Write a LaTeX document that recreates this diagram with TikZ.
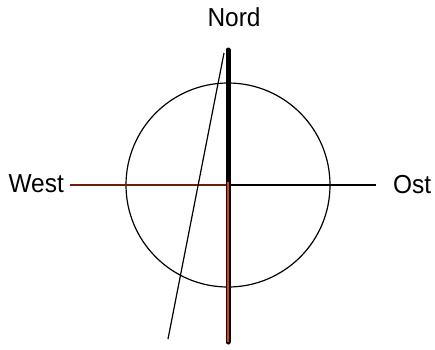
\documentclass[tikz,border=0pt]{standalone}
\usepackage{fontspec}
\setmainfont{Liberation Sans}
\newfontfamily\lbfont[FakeStretch=0.94]{Liberation Sans}
\definecolor{westred}{RGB}{110,30,10}
\definecolor{needlered}{RGB}{230,60,10}
\begin{document}
\begin{tikzpicture}[x=1pt,y=-1pt,
  lbl/.style={font=\lbfont\fontsize{26}{26}\selectfont, inner sep=0pt},
  thin/.style={line width=1.2pt}]
\useasboundingbox (0,0) rectangle (435,349);
\coordinate (c) at (228,185);
\coordinate (wend) at (70,185);
\coordinate (eend) at (376,185);
\coordinate (ntop) at (228,50);
\coordinate (nbot) at (228,342);
\coordinate (ltop) at (224,53);
\coordinate (lbot) at (168,339);
\node[lbl, anchor=base] (nord) at (234,26) {Nord};
\node[lbl, anchor=base east] (west) at (64,192) {West};
\node[lbl, anchor=base west] (ost) at (393,193) {Ost};
\draw[thin] (c) circle[radius=102];
\draw[thin, westred] (wend) -- (c);
\draw[thin] (c) -- (eend);
\draw[line width=5pt, line cap=round] (ntop) -- (c);
\draw[line width=5pt, line cap=round] (c) -- (nbot);
\draw[line width=2pt, needlered] ([yshift=3]c) -- (nbot);
\draw[thin] (ltop) -- (lbot);
\end{tikzpicture}
\end{document}
